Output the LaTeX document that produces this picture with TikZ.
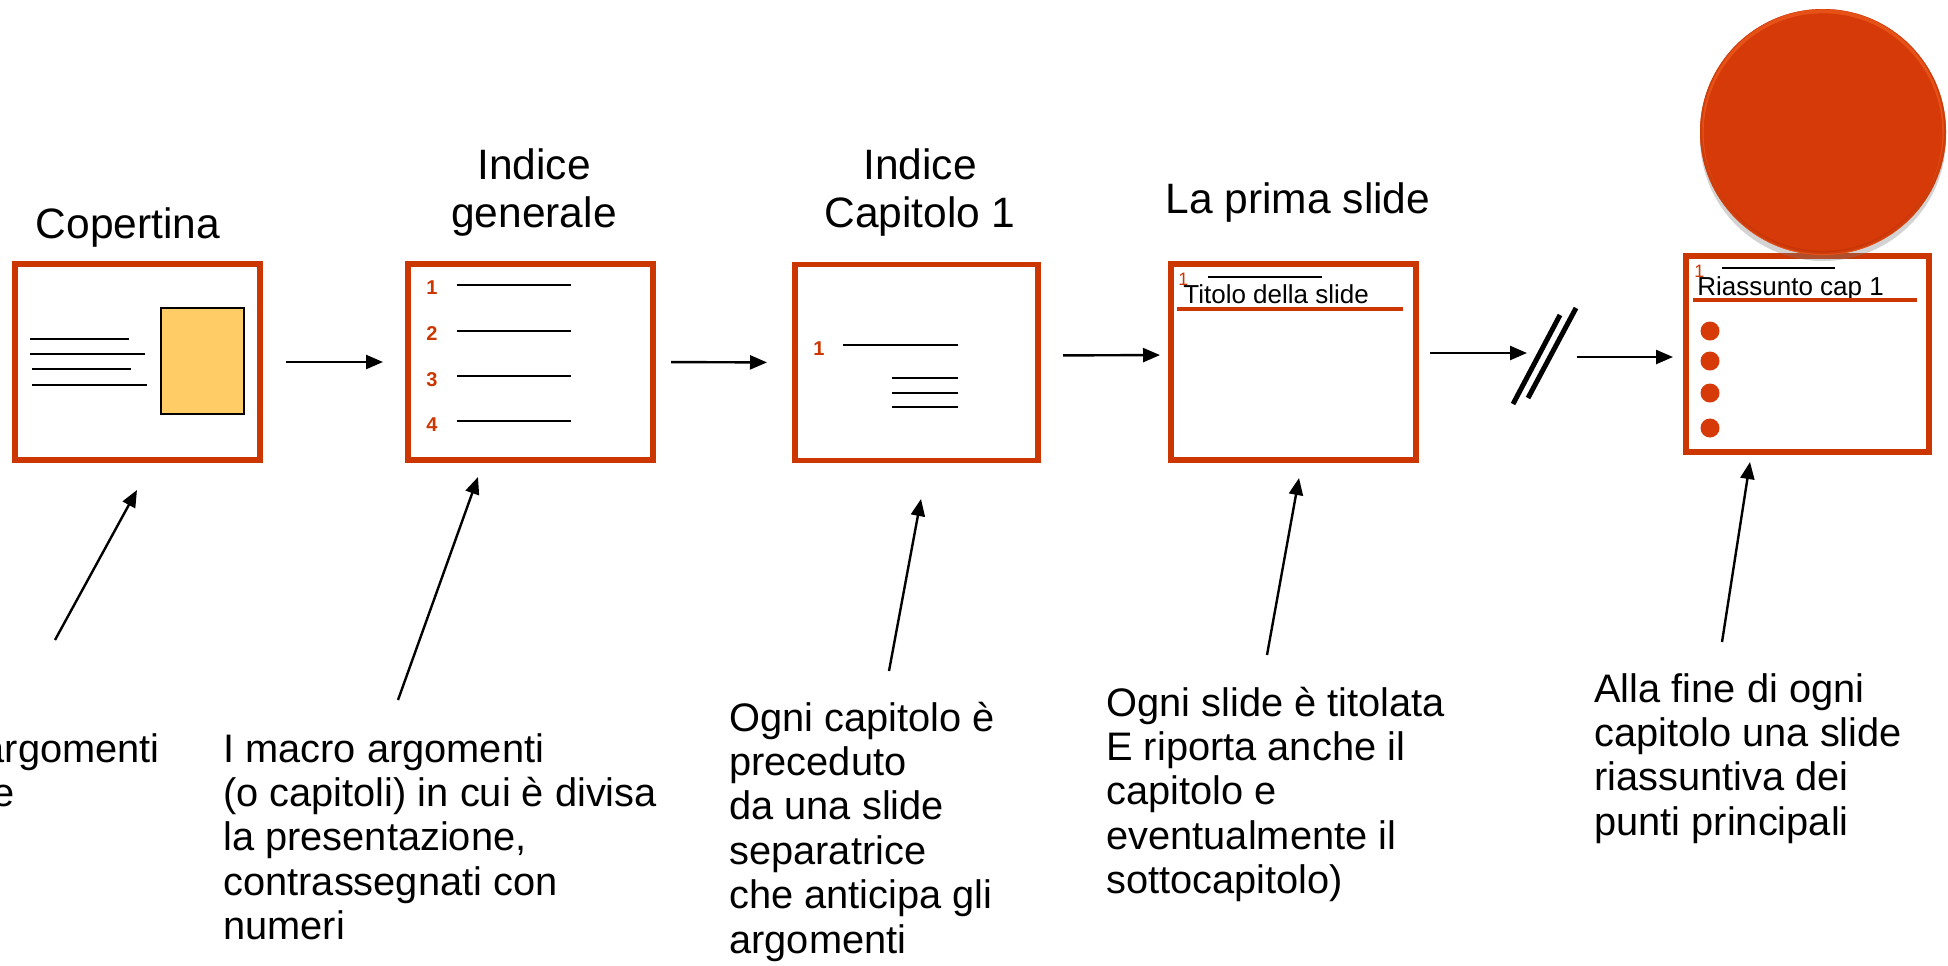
\documentclass[tikz,border=0pt]{standalone}
\usepackage{fontspec}
\setmainfont{Liberation Sans}
\usetikzlibrary{arrows.meta,shadows,calc}
\definecolor{slidered}{RGB}{204,54,0}
\definecolor{ballred}{RGB}{214,58,8}
\definecolor{ballrim}{RGB}{238,92,30}
\definecolor{balldark}{RGB}{190,48,6}
\definecolor{picfill}{RGB}{255,204,102}
\begin{document}
\begin{tikzpicture}[x=0.5pt,y=-0.5pt,
  slidebox/.style={draw=slidered, line width=2.75pt, minimum width=122.5pt, minimum height=98pt, inner sep=0pt, outer sep=0pt},
  arr/.style={line width=1.2pt, -{Triangle[length=8.5pt,width=7pt]}},
  txtline/.style={line width=0.9pt},
  brk/.style={line width=2.5pt},
  num/.style={text=slidered, font=\fontsize{10}{12}\selectfont\bfseries, inner sep=0pt, anchor=base},
  smallnum/.style={text=slidered, font=\fontsize{9}{10}\selectfont, inner sep=0pt, anchor=base west},
  slidetitle/.style={font=\fontsize{13}{15}\selectfont, inner sep=0pt, anchor=base west},
  title/.style={font=\fontsize{21.25}{24}\selectfont, inner sep=0pt, anchor=base},
  note/.style={font=\fontsize{19.9}{22.2}\selectfont, inner sep=0pt, anchor=base west},
  redrule/.style={draw=slidered, line width=2pt},
  bullet/.style={fill=ballred}
]
\useasboundingbox (0,0) rectangle (1948,965);
\clip (0,0) rectangle (1948,965);

% ---- slide boxes ----
\node[slidebox] (b1) at (137.5,362) {};
\node[slidebox] (b2) at (530.5,362) {};
\node[slidebox, minimum width=121.5pt] (b3) at (916.5,362.5) {};
\node[slidebox] (b4) at (1293.5,362) {};
\node[slidebox, minimum width=121.5pt] (b5) at (1807.5,354) {};

% ---- titles ----
\node[title] (t1) at (128,238) {Copertina};
\node[title] (t2) at (534,179) {\begin{tabular}[t]{@{}c@{}}Indice\\generale\end{tabular}};
\node[title] (t3) at (920,179) {\begin{tabular}[t]{@{}c@{}}Indice\\Capitolo 1\end{tabular}};
\node[title] (t4) at (1298,213) {La prima slide};

% ---- box 1 content ----
\draw[txtline] (30,339) -- (129,339);
\draw[txtline] (30,354) -- (145,354);
\draw[txtline] (32,369) -- (131,369);
\draw[txtline] (32,385) -- (147,385);
\draw[fill=picfill, line width=0.9pt] (161,308) rectangle (244,414);

% ---- box 2 content ----
\node[num] (n21) at (432,294) {1};
\node[num] (n22) at (432,340) {2};
\node[num] (n23) at (432,386) {3};
\node[num] (n24) at (432,431) {4};
\draw[txtline] (457,285) -- (571,285);
\draw[txtline] (457,331) -- (571,331);
\draw[txtline] (457,376) -- (571,376);
\draw[txtline] (457,421) -- (571,421);

% ---- box 3 content ----
\node[num] (n31) at (819,355) {1};
\draw[txtline] (843,345) -- (958,345);
\draw[txtline] (892,378) -- (958,378);
\draw[txtline] (892,393) -- (958,393);
\draw[txtline] (892,407) -- (958,407);

% ---- box 4 content ----
\node[smallnum] (n41) at (1178,285) {1};
\draw[line width=0.7pt] (1208,277) -- (1322,277);
\node[slidetitle] (st4) at (1183,303) {Titolo della slide};
\draw[redrule] (1177,309) -- (1403,309);

% ---- box 5 content ----
\node[smallnum] (n51) at (1694,277) {1};
\draw[line width=0.7pt] (1722,268) -- (1835,268);
\node[slidetitle] (st5) at (1697,295) {Riassunto cap 1};
\draw[redrule] (1693,300) -- (1917,300);
\fill[bullet] (1710,331) circle[radius=4.75pt];
\fill[bullet] (1710,361) circle[radius=4.75pt];
\fill[bullet] (1710,393) circle[radius=4.75pt];
\fill[bullet] (1710,428) circle[radius=4.75pt];

% ---- big circle ----
\fill[ballred, drop shadow={shadow xshift=0pt, shadow yshift=-3pt, opacity=0.35}] (1823,132) circle[radius=61.5pt];
\begin{scope}
  \clip (1823,132) circle[radius=61.5pt];
  \draw[ballrim, line width=2.2pt, opacity=0.7] (1823,133) circle[radius=60.8pt];
  \draw[balldark, line width=1.6pt, opacity=0.6] (1823,130) circle[radius=61.2pt];
\end{scope}
\fill[ballred] (1823,132) circle[radius=59.3pt];

% ---- arrows between slides ----
\draw[arr, shorten <=13pt, shorten >=12.5pt] (b1.east) -- (b2.west);
\draw[arr, shorten <=9pt, shorten >=14pt] (b2.east) -- (b3.west);
\draw[arr, shorten <=12.5pt, shorten >=5.5pt] ([yshift=3.5pt]b3.east) -- ([yshift=3.5pt]b4.west);
\coordinate (brk1) at (1527,353);
\coordinate (brk2) at (1577,357);
\draw[arr, shorten <=7pt] (b4.east |- brk1) -- (brk1);
\draw[arr, shorten >=6.5pt] (brk2) -- (b5.west |- brk2);
\draw[brk] (1513,404) -- (1560,315);
\draw[brk] (1528,398) -- (1576,308);

% ---- notes ----
\node[note, anchor=base east] (n0a) at (160,762) {argomenti};
\node[note, anchor=base east] (n0b) at (15,806) {e};
\node[note] (c1) at (223,762) {\begin{tabular}[t]{@{}l@{}}I macro argomenti\\(o capitoli) in cui è divisa\\la presentazione,\\contrassegnati con\\numeri\end{tabular}};
\node[note] (c2) at (729,731) {\begin{tabular}[t]{@{}l@{}}Ogni capitolo è\\preceduto\\da una slide\\separatrice\\che anticipa gli\\argomenti\end{tabular}};
\node[note] (c3) at (1106,716) {\begin{tabular}[t]{@{}l@{}}Ogni slide è titolata\\E riporta anche il\\capitolo e\\eventualmente il\\sottocapitolo)\end{tabular}};
\node[note] (c4) at (1594,702) {\begin{tabular}[t]{@{}l@{}}Alla fine di ogni\\capitolo una slide\\riassuntiva dei\\punti principali\end{tabular}};

% ---- pointer arrows ----
\coordinate (p1a) at (55,640);   \coordinate (p1b) at (137,490);
\coordinate (p2a) at (398,700);  \coordinate (p2b) at (478,477);
\coordinate (p3a) at (889,671);  \coordinate (p3b) at (921,499);
\coordinate (p4a) at (1267,655); \coordinate (p4b) at (1299,478);
\coordinate (p5a) at (1722,642); \coordinate (p5b) at (1750,462);
\draw[arr] (p1a) -- (p1b);
\draw[arr] (p2a) -- (p2b);
\draw[arr] (p3a) -- (p3b);
\draw[arr] (p4a) -- (p4b);
\draw[arr] (p5a) -- (p5b);
\end{tikzpicture}
\end{document}
